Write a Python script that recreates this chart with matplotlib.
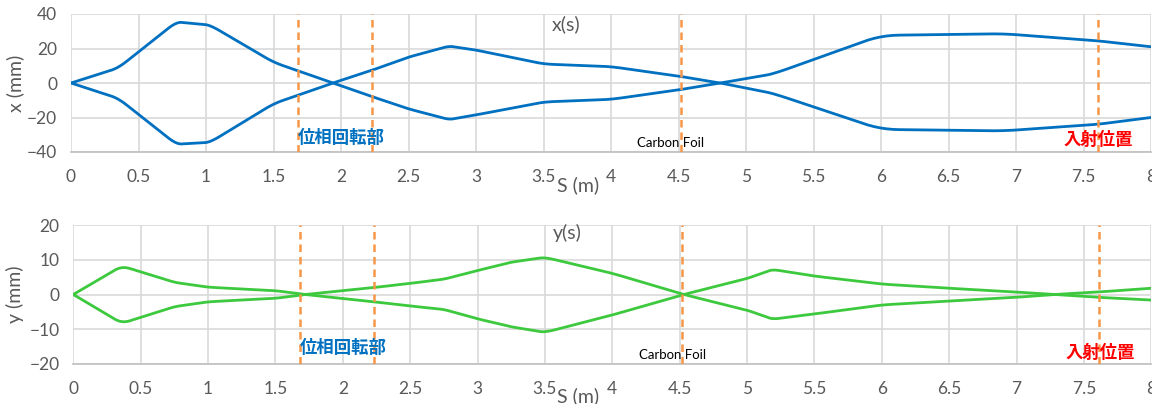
import numpy as np
import matplotlib.pyplot as plt

plt.rcParams['font.family'] = ['Lato', 'DejaVu Sans']

# horizontal envelope x(s)
s_x = [0, 0.35, 0.78, 1.03, 1.5, 1.94, 2.23, 2.5, 2.8, 3.0, 3.5, 4.0, 4.5, 4.81, 5.2, 6.0, 6.9, 7.6, 8.0]
x_up = [0, 8.7, 35.4, 33.6, 12, 0, -7.9, -15, -21.2, -18.5, -11, -9.5, -4, 0, 5.2, 27.6, 28.6, 24.5, 21]
x_dn = [0, -8.9, -35.5, -34.4, -12, 0, 7.4, 15, 21.4, 19.1, 11, 9.5, 4, 0, -6, -26.9, -27.8, -24, -20]

# vertical envelope y(s)
s_y = [0, 0.36, 0.75, 1.0, 1.5, 1.72, 2.23, 2.5, 2.75, 3.0, 3.25, 3.5, 4.0, 4.53, 5.0, 5.19, 5.5, 6.0, 6.5, 7.0, 7.28, 7.6, 8.0]
y_a = [0, 8.2, 3.5, 2.1, 1.1, 0, -2.1, -3.3, -4.3, -7.0, -9.3, -10.9, -5.9, 0, 4.6, 7.2, 5.3, 3.0, 1.8, 0.7, 0, -0.8, -1.6]
y_b = [0, -8.3, -3.5, -2.1, -1.1, 0, 2.0, 3.2, 4.4, 6.9, 9.3, 10.7, 6.1, 0, -4.5, -7.1, -5.6, -3.0, -1.9, -0.8, 0, 0.7, 1.8]

marks = [1.68, 2.23, 4.52, 7.61]
x_ticks = [0, 0.5, 1, 1.5, 2, 2.5, 3, 3.5, 4, 4.5, 5, 5.5, 6, 6.5, 7, 7.5, 8]
x_ticklabels = ['0', '0.5', '1', '1.5', '2', '2.5', '3', '3.5', '4', '4.5', '5', '5.5', '6', '6.5', '7', '7.5', '8']

grey = '#595959'
grid_c = '#D9D9D9'
dash_c = '#F79646'
jp = ['Noto Sans CJK JP', 'DejaVu Sans']


def smooth(xs, ys, f=0.15, n=12):
    # straight segments with rounded corners, like excel's smoothed line
    p = np.column_stack([xs, ys]).astype(float)
    out = [p[0]]
    t = np.linspace(0, 1, n)[:, None]
    for i in range(1, len(p) - 1):
        v = p[i]
        a = v + f * (p[i - 1] - v)
        b = v + f * (p[i + 1] - v)
        out.extend((1 - t) ** 2 * a + 2 * (1 - t) * t * v + t ** 2 * b)
    out.append(p[-1])
    out = np.array(out)
    return out[:, 0], out[:, 1]


fig = plt.figure(figsize=(11.52, 4.04), dpi=100)
ax1 = fig.add_axes([71/1152, 1-152/404, 1080/1152, 138/404])
ax2 = fig.add_axes([73.3/1152, 1-364/404, 1078/1152, 139/404])


def style(ax, ylim, yticks):
    ax.set_xlim(0, 8)
    ax.set_ylim(*ylim)
    ax.set_xticks(x_ticks)
    ax.set_xticklabels(x_ticklabels)
    ax.set_yticks(yticks)
    ax.grid(True, color=grid_c, lw=1.2)
    ax.set_axisbelow(True)
    for k in ['top', 'right', 'left']:
        ax.spines[k].set_visible(False)
    ax.spines['bottom'].set_color('#BFBFBF')
    ax.spines['bottom'].set_linewidth(1.2)
    ax.tick_params(length=0, labelsize=12.5, labelcolor=grey)
    ax.tick_params(axis='x', pad=12)
    ax.tick_params(axis='y', pad=10)


style(ax1, (-40, 40), [-40, -20, 0, 20, 40])
style(ax2, (-20, 20), [-20, -10, 0, 10, 20])

ax1.plot(*smooth(s_x, x_up), color='#0070C0', lw=2)
ax1.plot(*smooth(s_x, x_dn), color='#0070C0', lw=2)
ax2.plot(*smooth(s_y, y_a), color='#3DC93D', lw=2)
ax2.plot(*smooth(s_y, y_b), color='#3DC93D', lw=2)

for ax in (ax1, ax2):
    for m in marks:
        ax.axvline(m, color=dash_c, lw=1.8, ls=(0, (3, 2)), zorder=3)

ax1.text(1.68, -31.9, '位相回転部', color='#0070C0', fontsize=12.5, fontweight='bold', family=jp, ha='left', va='center', zorder=4)
ax1.text(4.44, -34.8, 'Carbon Foil', color='black', fontsize=9.5, family=['Lato'], ha='center', va='center', zorder=4)
ax1.text(7.61, -33, '入射位置', color='#FF0000', fontsize=12.5, fontweight='bold', family=jp, ha='center', va='center', zorder=4)
ax2.text(1.68, -15.4, '位相回転部', color='#0070C0', fontsize=12.5, fontweight='bold', family=jp, ha='left', va='center', zorder=4)
ax2.text(4.45, -17.4, 'Carbon Foil', color='black', fontsize=9.5, family=['Lato'], ha='center', va='center', zorder=4)
ax2.text(7.62, -16.8, '入射位置', color='#FF0000', fontsize=12.5, fontweight='bold', family=jp, ha='center', va='center', zorder=4)

ax1.text(0.458, 0.928, 'x(s)', transform=ax1.transAxes, color=grey, fontsize=14, ha='center', va='center')
ax2.text(0.458, 0.942, 'y(s)', transform=ax2.transAxes, color=grey, fontsize=14, ha='center', va='center')

ax1.set_ylabel('x (mm)', color=grey, fontsize=14)
ax2.set_ylabel('y (mm)', color=grey, fontsize=14)
ax1.yaxis.set_label_coords(-47/1080, 0.5)
ax2.yaxis.set_label_coords(-49/1078, 0.5)
fig.text(0.502, 1-185/404, 'S (m)', color=grey, fontsize=14, ha='center', va='center')
fig.text(0.502, 1-396/404, 'S (m)', color=grey, fontsize=14, ha='center', va='center')

fig.savefig('out.png', dpi=100)
